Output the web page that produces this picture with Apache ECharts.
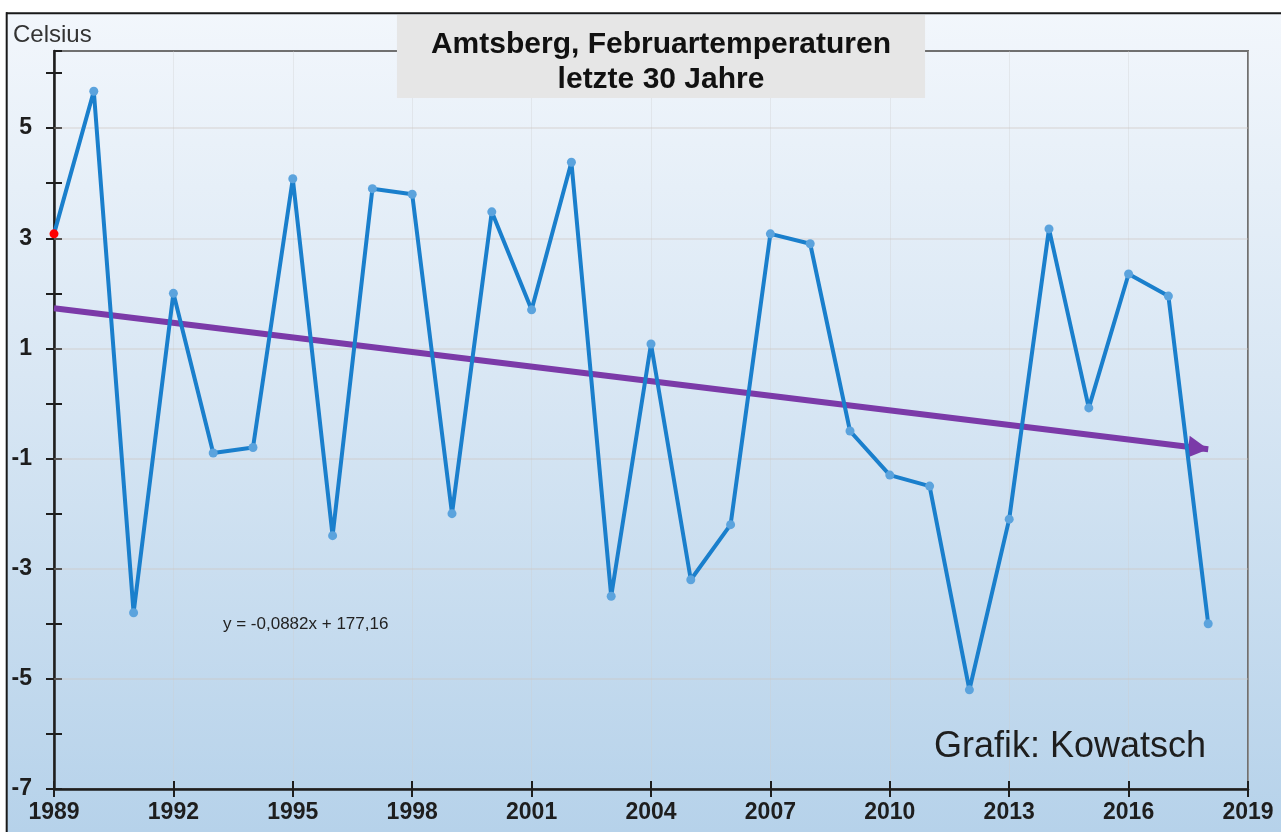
<!DOCTYPE html>
<html><head><meta charset="utf-8">
<script src="https://cdn.jsdelivr.net/npm/echarts@6/dist/echarts.min.js"></script>
<style>html,body{margin:0;padding:0;background:#fff}#c{width:1281px;height:832px}</style>
</head><body><div id="c"></div><script>
// ---- data ----
const years = [1989,1990,1991,1992,1993,1994,1995,1996,1997,1998,1999,2000,2001,2002,2003,2004,2005,2006,2007,2008,2009,2010,2011,2012,2013,2014,2015,2016,2017,2018];
const temps = [3.08,5.67,-3.8,2.0,-0.9,-0.8,4.08,-2.4,3.9,3.8,-2.0,3.48,1.7,4.38,-3.5,1.08,-3.2,-2.2,3.08,2.9,-0.5,-1.3,-1.5,-5.2,-2.1,3.17,-0.08,2.35,1.95,-4.0];
const trendYears = [1989, 2018];
const trendValues = [1.73, -0.83];
const yGridValues = [-5, -3, -1, 1, 3, 5];
const titleLines = ['Amtsberg, Februartemperaturen', 'letzte 30 Jahre'];
const unitText = 'Celsius';
const equationText = 'y = -0,0882x + 177,16';
const creditText = 'Grafik: Kowatsch';

// ---- chart ----
const FONT = '"Liberation Sans", Arial, sans-serif';
const AX = '#1e1e1e';
const chart = echarts.init(document.getElementById('c'), null, {renderer: 'canvas'});

const mainData = years.map((y, i) => i === 0
  ? {value: [y, temps[i]], itemStyle: {color: '#ff0000'}}
  : [y, temps[i]]);

const xBase = {type: 'value', min: 1989, max: 2019, interval: 3, gridIndex: 0};
const yBase = {type: 'value', min: -7, max: 6.4, interval: 1, gridIndex: 0};

const option = {
  animation: false,
  backgroundColor: new echarts.graphic.LinearGradient(0, 0, 0, 1, [
    {offset: 0, color: '#f3f7fc'},
    {offset: 0.45, color: '#d9e7f4'},
    {offset: 1, color: '#b6d2ea'}
  ]),
  title: {
    text: titleLines.join('\n'),
    left: 627, top: 15,
    textAlign: 'center',
    backgroundColor: '#e6e6e6',
    padding: [12.5, 34, 0.5, 34],
    textStyle: {fontFamily: FONT, fontWeight: 'bold', fontSize: 30, lineHeight: 35, color: '#111'}
  },
  grid: {left: 54, top: 51, width: 1194, height: 738, show: true, borderColor: '#707070', borderWidth: 2, backgroundColor: 'transparent'},
  xAxis: [
    Object.assign({}, xBase, {
      position: 'bottom',
      axisLine: {onZero: false, lineStyle: {color: AX, width: 2.5}},
      axisTick: {length: 8, lineStyle: {color: AX, width: 2}},
      axisLabel: {margin: 12, fontFamily: FONT, fontSize: 23, fontWeight: 'bold', color: AX, formatter: v => String(v)},
      splitLine: {show: true, lineStyle: {color: 'rgba(205,205,205,0.35)', width: 1}}
    }),
    Object.assign({}, xBase, {
      position: 'bottom',
      axisLine: {show: false, onZero: false},
      axisTick: {inside: true, length: 8, lineStyle: {color: AX, width: 2}},
      axisLabel: {show: false},
      splitLine: {show: false}
    })
  ],
  yAxis: [
    Object.assign({}, yBase, {
      position: 'left',
      axisLine: {show: true, onZero: false, lineStyle: {color: AX, width: 2.5}},
      axisTick: {show: true, length: 8, lineStyle: {color: AX, width: 2}},
      axisLabel: {margin: 22, fontFamily: FONT, fontSize: 23, fontWeight: 'bold', color: AX, showMaxLabel: false,
        formatter: v => (Number.isInteger(v) && Math.abs(v % 2) === 1) ? String(v) : ''},
      splitLine: {show: false}
    }),
    Object.assign({}, yBase, {
      position: 'left', offset: 0,
      axisLine: {show: false, onZero: false},
      axisTick: {show: true, inside: true, length: 8, lineStyle: {color: AX, width: 2}},
      axisLabel: {show: false},
      splitLine: {show: false}
    })
  ],
  series: [
    {
      name: 'grid', type: 'line', data: [], silent: true, z: 1,
      markLine: {
        silent: true, symbol: ['none', 'none'], animation: false,
        label: {show: false},
        lineStyle: {color: 'rgba(205,198,190,0.45)', width: 1.5, type: 'solid'},
        data: yGridValues.map(v => ({yAxis: v}))
      }
    },
    {
      name: 'Trend', type: 'line', data: [], z: 3,
      markLine: {
        silent: true, animation: false,
        symbol: ['none', 'triangle'], symbolSize: [22, 20],
        symbolOffset: [[0, 0], [0, 10]],
        label: {show: false},
        lineStyle: {color: '#7b3aa8', width: 6, type: 'solid', opacity: 1},
        data: [[{coord: [trendYears[0], trendValues[0]]}, {coord: [trendYears[1], trendValues[1]]}]]
      }
    },
    {
      name: 'Februar', type: 'line', data: mainData, z: 5,
      symbol: 'circle', symbolSize: 9, showAllSymbol: true,
      lineStyle: {color: '#1a7fcc', width: 4},
      itemStyle: {color: '#5ba3dd'}
    }
  ],
  graphic: [
    {type: 'rect', silent: true, shape: {x: 0, y: 0, width: 1281, height: 12}, style: {fill: '#ffffff'}},
    {type: 'rect', silent: true, shape: {x: 0, y: 0, width: 6, height: 832}, style: {fill: '#ffffff'}},
    {type: 'line', silent: true, shape: {x1: 6, y1: 13.3, x2: 1281, y2: 13.3}, style: {stroke: '#1a1a1a', lineWidth: 2}},
    {type: 'line', silent: true, shape: {x1: 6.7, y1: 12.3, x2: 6.7, y2: 832}, style: {stroke: '#1a1a1a', lineWidth: 2}},
    {type: 'text', silent: true, x: 13, y: 35, style: {text: unitText, fontFamily: FONT, fontSize: 24, fill: '#333', verticalAlign: 'middle'}},
    {type: 'text', silent: true, x: 223, y: 624, style: {text: equationText, fontFamily: FONT, fontSize: 17, fill: '#222', verticalAlign: 'middle'}},
    {type: 'text', silent: true, x: 934, y: 747, style: {text: creditText, fontFamily: FONT, fontSize: 36, fill: '#1e1e1e', verticalAlign: 'middle'}}
  ]
};
chart.setOption(option);
</script></body></html>
